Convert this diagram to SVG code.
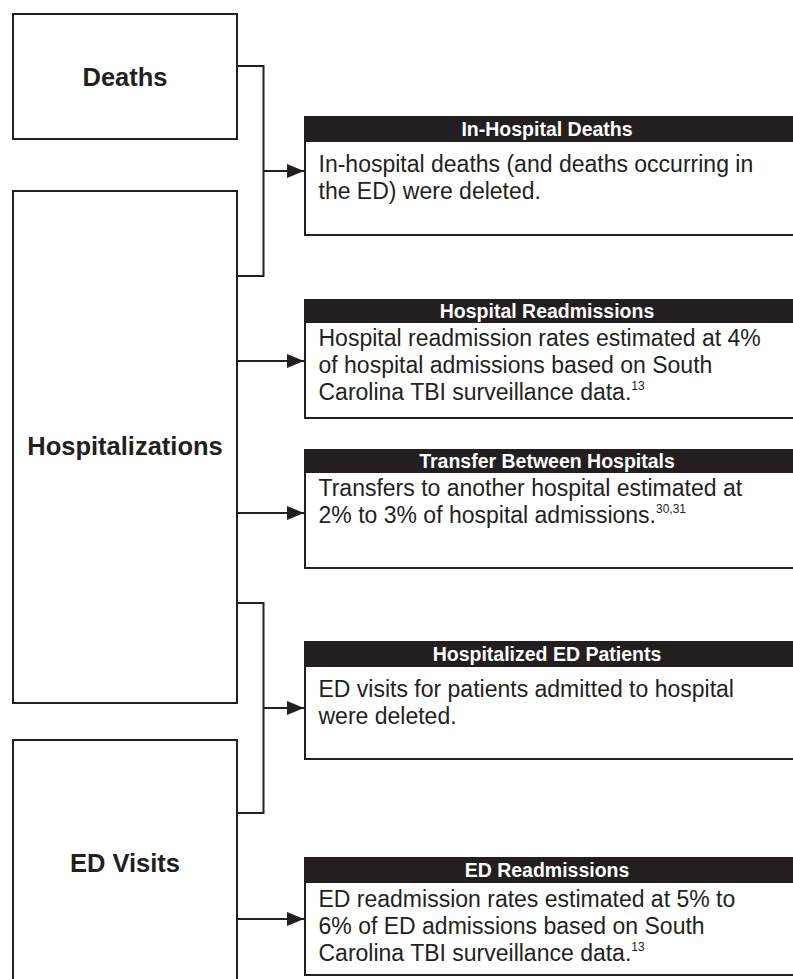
<svg xmlns="http://www.w3.org/2000/svg" width="793" height="979" viewBox="0 0 793 979">
<style>
.box{fill:#fff;stroke:#231f20;stroke-width:2}
.hdr{fill:#231f20}
.lbl{font-family:"Liberation Sans",Arial,sans-serif;font-weight:bold;font-size:25.5px;fill:#231f20;text-anchor:middle}
.ht{font-family:"Liberation Sans",Arial,sans-serif;font-weight:bold;font-size:19.5px;fill:#fff;text-anchor:middle}
.bt{font-family:"Liberation Sans",Arial,sans-serif;font-size:23px;fill:#231f20}
.sup{font-size:12px}
.con{fill:none;stroke:#231f20;stroke-width:2}
</style>
<defs>
<marker id="ah" markerUnits="userSpaceOnUse" markerWidth="17" markerHeight="14" refX="17" refY="7" orient="auto">
<path d="M0,0 L17,7 L0,14 Z" fill="#231f20"/>
</marker>
</defs>
<rect width="793" height="979" fill="#fff"/>

<g id="deaths">
<rect class="box" x="13" y="14" width="224" height="125"/>
<text class="lbl" x="125" y="86">Deaths</text>
</g>
<g id="hospitalizations">
<rect class="box" x="13" y="191" width="224" height="512"/>
<text class="lbl" x="125" y="455">Hospitalizations</text>
</g>
<g id="ed-visits">
<rect class="box" x="13" y="740" width="224" height="260"/>
<text class="lbl" x="125" y="872">ED Visits</text>
</g>

<g id="in-hospital-deaths">
<rect class="box" x="305" y="117" width="500" height="118"/>
<rect class="hdr" x="305" y="117" width="500" height="25"/>
<text class="ht" x="547" y="136">In-Hospital Deaths</text>
<text class="bt" x="318.5" y="171.5">In-hospital deaths (and deaths occurring in</text>
<text class="bt" x="318.5" y="198.5">the ED) were deleted.</text>
</g>
<g id="hospital-readmissions">
<rect class="box" x="305" y="300" width="500" height="118"/>
<rect class="hdr" x="305" y="300" width="500" height="23"/>
<text class="ht" x="547" y="318">Hospital Readmissions</text>
<text class="bt" x="318.5" y="346">Hospital readmission rates estimated at 4%</text>
<text class="bt" x="318.5" y="373">of hospital admissions based on South</text>
<text class="bt" x="318.5" y="400">Carolina TBI surveillance data.<tspan class="sup" dy="-10">13</tspan></text>
</g>
<g id="transfer-between-hospitals">
<rect class="box" x="305" y="450" width="500" height="118"/>
<rect class="hdr" x="305" y="450" width="500" height="23"/>
<text class="ht" x="547" y="468">Transfer Between Hospitals</text>
<text class="bt" x="318.5" y="496">Transfers to another hospital estimated at</text>
<text class="bt" x="318.5" y="523">2% to 3% of hospital admissions.<tspan class="sup" dy="-10">30,31</tspan></text>
</g>
<g id="hospitalized-ed-patients">
<rect class="box" x="305" y="642" width="500" height="117"/>
<rect class="hdr" x="305" y="642" width="500" height="25"/>
<text class="ht" x="547" y="661">Hospitalized ED Patients</text>
<text class="bt" x="318.5" y="697">ED visits for patients admitted to hospital</text>
<text class="bt" x="318.5" y="724">were deleted.</text>
</g>
<g id="ed-readmissions">
<rect class="box" x="305" y="858" width="500" height="117"/>
<rect class="hdr" x="305" y="858" width="500" height="25"/>
<text class="ht" x="547" y="877">ED Readmissions</text>
<text class="bt" x="318.5" y="907">ED readmission rates estimated at 5% to</text>
<text class="bt" x="318.5" y="934">6% of ED admissions based on South</text>
<text class="bt" x="318.5" y="961">Carolina TBI surveillance data.<tspan class="sup" dy="-10">13</tspan></text>
</g>

<g id="connectors">
<path class="con" d="M237,66 H263.5 V276 H237"/>
<path class="con" d="M263.5,171 H304" marker-end="url(#ah)"/>
<path class="con" d="M237,361 H304" marker-end="url(#ah)"/>
<path class="con" d="M237,513 H304" marker-end="url(#ah)"/>
<path class="con" d="M237,603 H263.5 V813 H237"/>
<path class="con" d="M263.5,708 H304" marker-end="url(#ah)"/>
<path class="con" d="M237,919 H304" marker-end="url(#ah)"/>
</g>
</svg>
